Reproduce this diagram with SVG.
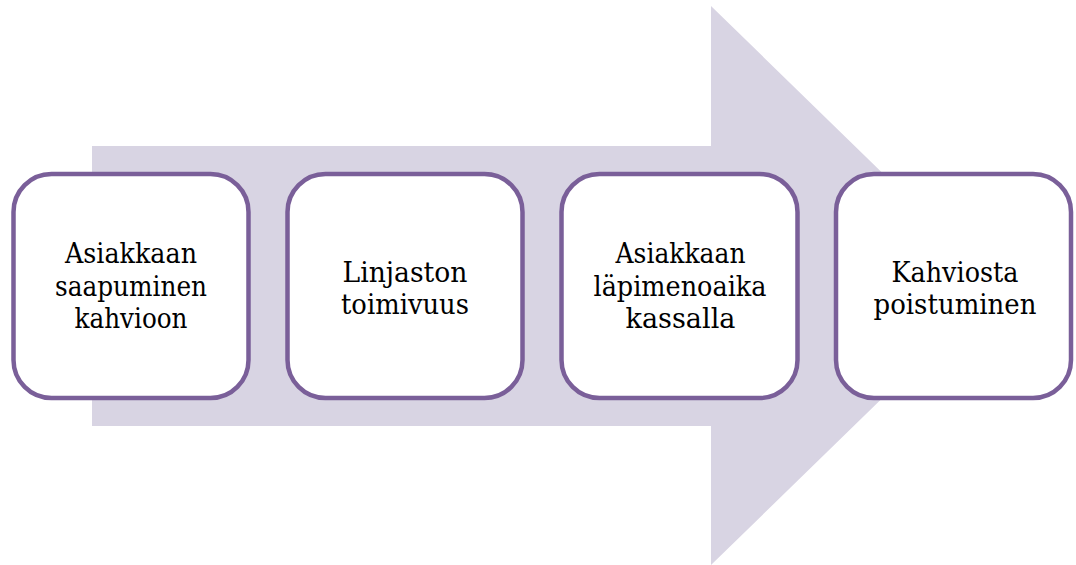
<svg xmlns="http://www.w3.org/2000/svg" width="1076" height="565" viewBox="0 0 1076 565">
<style>
.box{fill:#ffffff;stroke:#7a5f99;stroke-width:4.5}
.t{font-family:"DejaVu Serif","Liberation Serif",serif;font-size:27px;fill:#000;text-anchor:middle}
</style>
<rect width="1076" height="565" fill="#ffffff"/>
<g id="arrow">
<polygon points="92,146 711,146 711,6 998,285.5 711,565 711,426 92,426" fill="#d8d4e3"/>
</g>
<g id="connectors"></g>
<g id="node1">
<rect class="box" x="13.5" y="174" width="235" height="224" rx="38"/>
<text class="t" x="131" y="263" textLength="132" lengthAdjust="spacingAndGlyphs">Asiakkaan</text>
<text class="t" x="131" y="295.5" textLength="152" lengthAdjust="spacingAndGlyphs">saapuminen</text>
<text class="t" x="131" y="328" textLength="113" lengthAdjust="spacingAndGlyphs">kahvioon</text>
</g>
<g id="node2">
<rect class="box" x="287.5" y="174" width="235" height="224" rx="38"/>
<text class="t" x="405" y="282" textLength="125" lengthAdjust="spacingAndGlyphs">Linjaston</text>
<text class="t" x="405" y="314" textLength="128" lengthAdjust="spacingAndGlyphs">toimivuus</text>
</g>
<g id="node3">
<rect class="box" x="561.5" y="174" width="236" height="224" rx="38"/>
<text class="t" x="680.5" y="263" textLength="130" lengthAdjust="spacingAndGlyphs">Asiakkaan</text>
<text class="t" x="680" y="295.5" textLength="173" lengthAdjust="spacingAndGlyphs">läpimenoaika</text>
<text class="t" x="680.5" y="328" textLength="110" lengthAdjust="spacingAndGlyphs">kassalla</text>
</g>
<g id="node4">
<rect class="box" x="836" y="174" width="235" height="224" rx="38"/>
<text class="t" x="955" y="282" textLength="127" lengthAdjust="spacingAndGlyphs">Kahviosta</text>
<text class="t" x="955" y="314" textLength="163" lengthAdjust="spacingAndGlyphs">poistuminen</text>
</g>
</svg>
